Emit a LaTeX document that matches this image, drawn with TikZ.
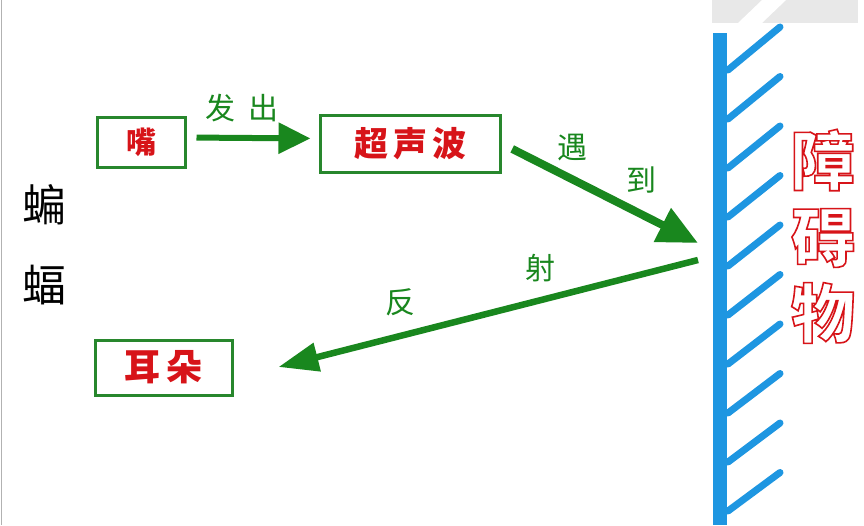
\documentclass[tikz,border=0pt]{standalone}
\usepackage{fontspec}
\newfontfamily\cjk{Noto Sans CJK SC}
\usetikzlibrary{arrows.meta}
\definecolor{boxgreen}{RGB}{40,135,45}
\definecolor{arrgreen}{RGB}{25,135,30}
\definecolor{txtred}{RGB}{215,20,25}
\definecolor{wallblue}{RGB}{30,150,225}
\newcommand{\hollowtext}[1]{\special{pdf:literal direct 1 Tr 1.6 w}#1\special{pdf:literal direct 0 Tr}}
\begin{document}
\begin{tikzpicture}[x=1pt,y=-1pt,
  box/.style={draw=boxgreen,line width=3pt,inner sep=0pt,text=txtred,font=\cjk\bfseries},
  lbl/.style={text=arrgreen,font=\cjk\fontsize{30}{30}\selectfont,inner sep=0pt},
  arr/.style={draw=arrgreen},
  wall/.style={draw=wallblue,line width=14pt},
  hatch/.style={draw=wallblue,line width=7pt,line cap=round},
  bat/.style={font=\cjk\fontsize{44}{44}\selectfont,inner sep=0pt,text=black},
  obst/.style={font=\cjk\bfseries\fontsize{64}{64}\selectfont,inner sep=0pt,text=txtred}]
\useasboundingbox (0,0) rectangle (864,525);
\fill[white] (0,0) rectangle (864,525);
% top-right faint mark
\fill[gray!18] (712,0) rectangle (858,23);
\fill[white] (738,23) -- (762,23) -- (786,0) -- (762,0) -- cycle;
% left border
\draw[gray!60,line width=1.5pt] (1.5,0) -- (1.5,525);
% bat
\node[bat] (bian) at (45,205) {蝙};
\node[bat] (fu) at (45,285) {蝠};
% boxes
\node[box,minimum width=88pt,minimum height=50pt,font=\cjk\bfseries\fontsize{30}{30}\selectfont] (mouth) at (141,142.5) {嘴};
\node[box,minimum width=180pt,minimum height=57pt,font=\cjk\bfseries\fontsize{34}{34}\selectfont] (wave) at (410,143.5) {超\hspace{5pt}声\hspace{5pt}波};
\node[box,minimum width=137pt,minimum height=55pt,font=\cjk\bfseries\fontsize{36}{36}\selectfont] (ear) at (163.5,367.5) {耳\hspace{6pt}朵};
% wall
\draw[wall] (720,33) -- (720,525);
\foreach \i in {0,...,9}{
  \draw[hatch] (728,{70+49*\i}) -- (780,{27+49.5*\i});
}
\coordinate (hit) at (698,243);
\coordinate (refl) at (698,260);
% obstacle text
\node[obst] (zhang) at (823,160) {\hollowtext{障}};
\node[obst] (ai) at (823,238) {\hollowtext{碍}};
\node[obst] (wu) at (823,313) {\hollowtext{物}};
% arrows
\draw[arr,line width=6pt,-{Triangle[length=32pt,width=30pt]},shorten <=10pt,shorten >=8pt] ([yshift=5pt]mouth.east) -- ([yshift=5pt]wave.west);
\draw[arr,line width=8pt,-{Triangle[length=40pt,width=36pt]},shorten <=12pt] (wave.east) -- (hit);
\draw[arr,line width=6.5pt,-{Triangle[length=40pt,width=28pt]}] (refl) -- ([xshift=45pt,yshift=0.5pt]ear.east);
% labels
\node[lbl] (fachu) at (242,108) {发\hspace{14pt}出};
\node[lbl] (yu) at (572,148) {遇};
\node[lbl] (dao) at (641,180) {到};
\node[lbl] (she) at (540,268) {射};
\node[lbl] (fan) at (400,302) {反};
\end{tikzpicture}
\end{document}
